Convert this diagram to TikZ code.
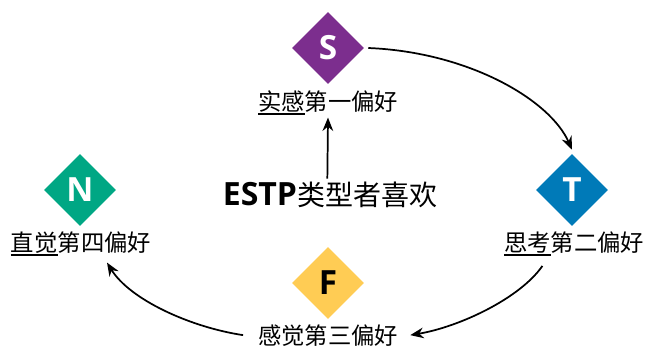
\documentclass[tikz,border=0pt]{standalone}
\usepackage{fontspec}
\setmainfont{Open Sans}
\newfontfamily\cjk{Noto Sans CJK SC}
\usetikzlibrary{shapes.geometric,arrows.meta}
\definecolor{cS}{RGB}{124,46,142}
\definecolor{cN}{RGB}{0,167,132}
\definecolor{cT}{RGB}{0,122,184}
\definecolor{cF}{RGB}{255,204,84}
\newcommand\myul[1]{\setbox0\hbox{#1}\rlap{\rule[-0.2em]{\wd0}{0.9pt}}\box0}
\begin{document}
\begin{tikzpicture}[x=0.75pt,y=-0.75pt,
  dia/.style={diamond, minimum width=54pt, minimum height=54pt, inner sep=0pt,
    text=white, font=\fontsize{25}{25}\selectfont\bfseries},
  lab/.style={font=\cjk\fontsize{17.5}{21}\selectfont, inner sep=0pt, anchor=base},
  arr/.style={-{Stealth[length=10pt,width=8pt]}, line width=1.3pt}]
\useasboundingbox (0,0) rectangle (645,347);
% diamonds
\node[dia, fill=cS] (S) at (328,48) {S};
\node[dia, fill=cN] (N) at (80,190) {N};
\node[dia, fill=cT] (T) at (572,190) {T};
\node[dia, fill=cF, text=black] (F) at (328,283) {F};
% labels
\node[lab] (Sl) at (328,110) {\myul{实感}第一偏好};
\node[lab] (Nl) at (81,251) {\myul{直觉}第四偏好};
\node[lab] (Tl) at (574,251) {\myul{思考}第二偏好};
\node[lab] (Fl) at (328,344) {感觉第三偏好};
\node[inner sep=0pt, anchor=base] (E) at (330,205)
  {\fontsize{24}{28}\selectfont\bfseries ESTP\mdseries\cjk\fontsize{21}{28}\selectfont 类型者喜欢};
% connectors
\draw[arr] ([xshift=-2pt,yshift=2pt]E.north) -- ([yshift=-2pt]Sl.south);
\draw[arr] ([xshift=3pt]S.east) .. controls +(100,4) and +(-22,-50) .. ([yshift=3pt]T.north);
\draw[arr] ([shift={(29pt,-7.5pt)}]Tl.south west) .. controls +(-23,33) and +(48,-8) .. ([xshift=9pt]Fl.east);
\draw[arr] ([xshift=-11pt]Fl.west) .. controls +(-53,-8) and +(23,37) .. ([shift={(19.5pt,-5pt)}]Nl.south);
\end{tikzpicture}
\end{document}
